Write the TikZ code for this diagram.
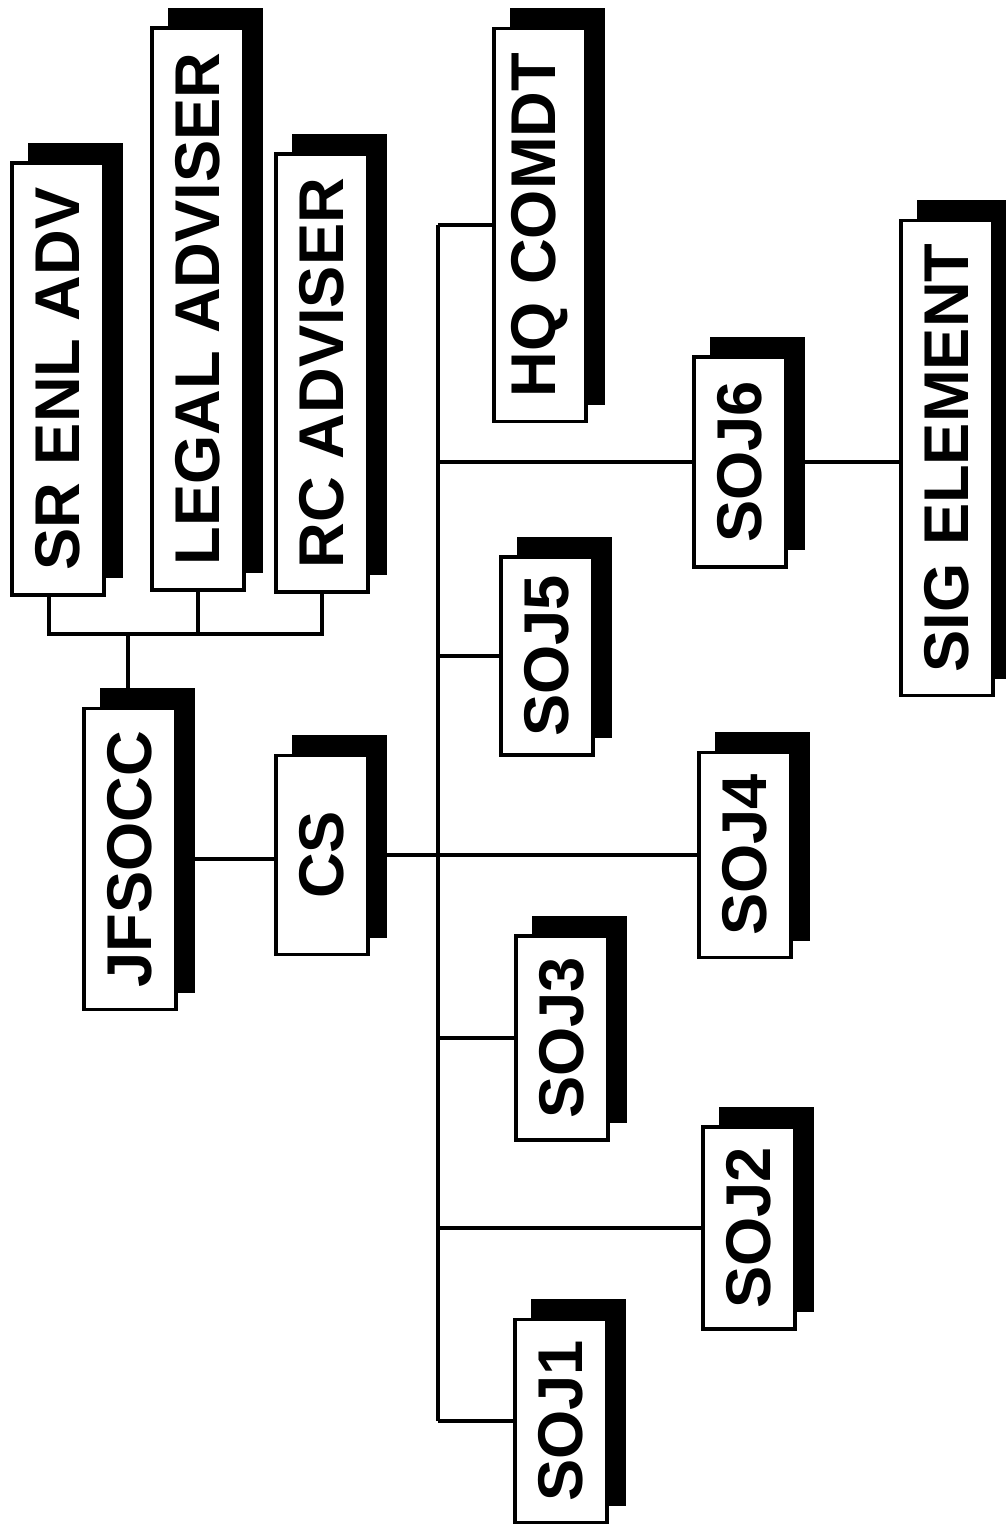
\documentclass[tikz,border=0pt]{standalone}
\usepackage{fontspec}
\setmainfont{Liberation Sans}
\usepackage{graphicx}
\usetikzlibrary{shadows}
\newcommand{\orgfont}{\bfseries\fontsize{36pt}{40pt}\selectfont}
\newcommand{\vtext}[1]{\rotatebox{90}{#1}}
\tikzset{
  orgbox/.style={draw, line width=2pt, fill=white, inner sep=0pt,
    minimum width=1.84cm, minimum height=#1*0.02cm, font=\orgfont,
    copy shadow={shadow xshift=0.35cm, shadow yshift=0.37cm,
      fill=black, draw=black, line width=2pt}},
  link/.style={line width=2pt}
}
\begin{document}
\begin{tikzpicture}[x=0.02cm, y=-0.02cm]
  \useasboundingbox (0,0) rectangle (1005,1526);
  % advisers
  \node[orgbox=432] (srenl) at (58,379) {\vtext{SR ENL ADV}};
  \node[orgbox=562] (legal) at (198,309) {\vtext{LEGAL ADVISER}};
  \node[orgbox=438] (rcadv) at (322,373) {\vtext{RC ADVISER}};
  % command
  \node[orgbox=301] (jfsocc) at (130,859) {\vtext{JFSOCC}};
  \node[orgbox=199] (cs) at (322,855) {\vtext{CS}};
  % staff sections
  \node[orgbox=393] (hq) at (540,225) {\vtext{HQ COMDT}};
  \node[orgbox=198] (soj5) at (547,656) {\vtext{SOJ5}};
  \node[orgbox=204] (soj3) at (562,1038) {\vtext{SOJ3}};
  \node[orgbox=203] (soj1) at (561,1421) {\vtext{SOJ1}};
  \node[orgbox=210] (soj6) at (740,462) {\vtext{SOJ6}};
  \node[orgbox=205] (soj4) at (745,855) {\vtext{SOJ4}};
  \node[orgbox=202] (soj2) at (749,1228) {\vtext{SOJ2}};
  \node[orgbox=475] (sig) at (947,458) {\vtext{SIG ELEMENT}};
  % adviser bracket
  \coordinate (advbus) at (128,634);
  \draw[link] ([xshift=-0.18cm]srenl.south) |- (advbus) -| (rcadv.south);
  \draw[link] (legal.south) -- (legal.south |- advbus);
  \draw[link] (advbus) -- (advbus |- jfsocc.north);
  % JFSOCC to CS to SOJ4
  \draw[link] (jfsocc.east) -- (jfsocc.east -| cs.west);
  \draw[link] (cs.east) -- (cs.east -| soj4.west);
  % trunk and branches
  \coordinate (trunk) at (438,0);
  \draw[link] (hq.west -| trunk) -- (soj1.west -| trunk);
  \foreach \n in {hq,soj6,soj5,soj3,soj2,soj1}
    \draw[link] (\n.west -| trunk) -- (\n.west);
  \draw[link] (soj6.east) -- (soj6.east -| sig.west);
\end{tikzpicture}
\end{document}
